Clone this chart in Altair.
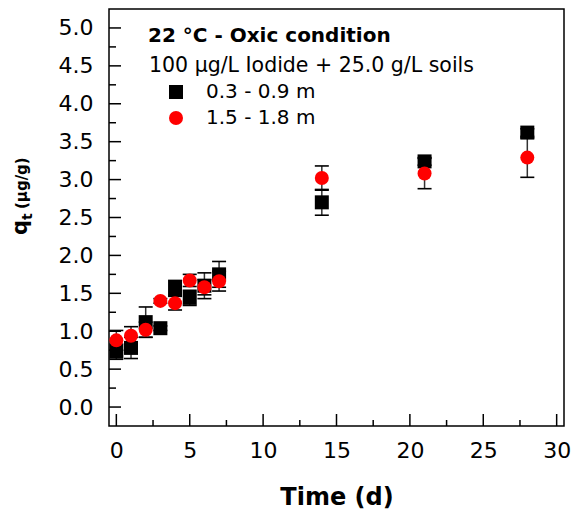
import altair as alt
import pandas as pd

# ---- data ----
time_d = [0, 1, 2, 3, 4, 5, 6, 7, 14, 21, 28]
series_names = ["0.3 - 0.9 m", "1.5 - 1.8 m"]
q_shallow = [0.73, 0.78, 1.12, 1.04, 1.57, 1.44, 1.60, 1.75, 2.70, 3.24, 3.62]
err_shallow = [0.10, 0.14, 0.20, 0.03, 0.10, 0.10, 0.17, 0.17, 0.17, 0.05, 0.05]
q_deep = [0.88, 0.94, 1.02, 1.40, 1.37, 1.67, 1.58, 1.66, 3.02, 3.08, 3.29]
err_deep = [0.13, 0.12, 0.10, 0.03, 0.09, 0.08, 0.10, 0.13, 0.16, 0.20, 0.26]

x_major = [0, 5, 10, 15, 20, 25, 30]
x_minor = [2.5, 7.5, 12.5, 17.5, 22.5, 27.5]
y_major = [0.0, 0.5, 1.0, 1.5, 2.0, 2.5, 3.0, 3.5, 4.0, 4.5, 5.0]
y_minor = [0.25, 0.75, 1.25, 1.75, 2.25, 2.75, 3.25, 3.75, 4.25, 4.75]

title_line = "22 °C - Oxic condition"
sub_line = "100 μg/L Iodide + 25.0 g/L soils"

rows = []
for name, qs, es in [(series_names[0], q_shallow, err_shallow),
                     (series_names[1], q_deep, err_deep)]:
    for t, q, e in zip(time_d, qs, es):
        rows.append({"t": t, "q": q, "lo": q - e, "hi": q + e, "series": name})
df = pd.DataFrame(rows)

W, H = 455, 417
FONT = "DejaVu Sans"

xs = alt.Scale(domain=[-0.5, 30.5], nice=False, zero=False)
ys = alt.Scale(domain=[-0.25, 5.25], nice=False, zero=False)

x_axis = alt.Axis(values=x_major, title="Time (d)", domain=False, ticks=False, tickSize=0,
                  grid=False, labelFont=FONT, labelFontSize=22, labelColor="black",
                  labelPadding=14, titleFont=FONT, titleFontSize=24, titleFontWeight="bold",
                  titleColor="black", titlePadding=24, format="d")
y_axis = alt.Axis(values=y_major, title=None, domain=False, ticks=False, tickSize=0,
                  grid=False, labelFont=FONT, labelFontSize=22, labelColor="black",
                  labelPadding=16, format=".1f")

X = lambda f: alt.X(f, scale=xs, axis=x_axis)
Y = lambda f: alt.Y(f, scale=ys, axis=y_axis)

base = alt.Chart(df)

bars = base.mark_rule(color="#333333", strokeWidth=1.5).encode(
    x=X("t:Q"), y=Y("lo:Q"), y2="hi:Q")
cap_lo = base.mark_point(shape="M-1,0H1", size=196, filled=False, color="black",
                         strokeWidth=1.6, opacity=1).encode(x=X("t:Q"), y=Y("lo:Q"))
cap_hi = base.mark_point(shape="M-1,0H1", size=196, filled=False, color="black",
                         strokeWidth=1.6, opacity=1).encode(x=X("t:Q"), y=Y("hi:Q"))

leg = alt.Legend(title=None, orient="none", legendX=57, legendY=73, labelFont=FONT,
                 labelFontSize=20, labelColor="black", symbolSize=180, labelOffset=20,
                 rowPadding=6, padding=0, symbolStrokeWidth=0, symbolOpacity=1)
points = base.mark_point(filled=True, opacity=1, strokeWidth=0).encode(
    x=X("t:Q"),
    y=Y("q:Q"),
    color=alt.Color("series:N", scale=alt.Scale(domain=series_names, range=["black", "#ff0000"]),
                    legend=leg),
    shape=alt.Shape("series:N", scale=alt.Scale(domain=series_names, range=["square", "circle"]),
                    legend=leg),
    size=alt.Size("series:N", scale=alt.Scale(domain=series_names, range=[196, 196]), legend=None),
)

# inward ticks
def xticks(vals, length):
    return alt.Chart(pd.DataFrame({"v": vals})).mark_rule(color="black", strokeWidth=1.5).encode(
        x=X("v:Q"), y=alt.value(H), y2=alt.value(H - length))

def yticks(vals, length):
    return alt.Chart(pd.DataFrame({"v": vals})).mark_rule(color="black", strokeWidth=1.5).encode(
        y=Y("v:Q"), x=alt.value(0), x2=alt.value(length))

def label(txt, x, y, size, weight="normal", angle=0, baseline="middle"):
    return alt.Chart(pd.DataFrame({"s": [txt]})).mark_text(
        align="left", baseline=baseline, font=FONT, fontSize=size, fontWeight=weight,
        color="black", angle=angle).encode(text="s:N", x=alt.value(x), y=alt.value(y))

texts = [
    label(title_line, 39, 27, 20, "bold"),
    label(sub_line, 40, 57, 20.5),
    label("q", -82, 226, 21, "bold", 270, "alphabetic"),
    label("t", -77, 211, 14, "bold", 270, "alphabetic"),
    label("(μg/g)", -82, 200, 15, "bold", 270, "alphabetic"),
]

chart = alt.layer(
    bars, cap_lo, cap_hi, points,
    xticks(x_major, 12), xticks(x_minor, 6), yticks(y_major, 12), yticks(y_minor, 7),
    *texts,
).properties(
    width=W, height=H,
    autosize=alt.AutoSizeParams(type="none"),
    padding={"left": 101, "top": 1, "right": 7, "bottom": 85},
    background="white",
).configure_view(stroke="black", strokeWidth=1.5)

chart.save("out.html", embed_options={"renderer": "svg", "actions": False})
